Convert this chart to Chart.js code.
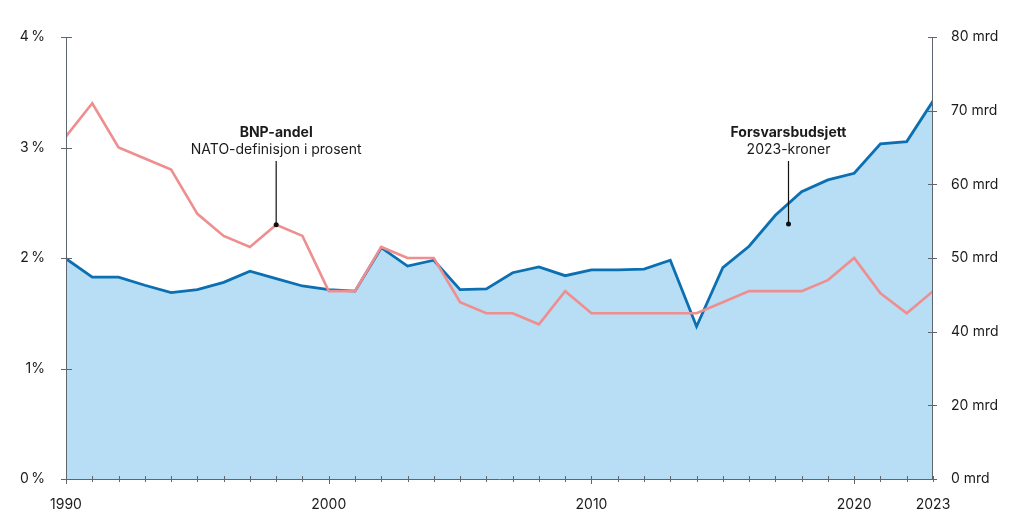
<!DOCTYPE html>
<html>
<head>
<meta charset="utf-8">
<script src="https://cdn.jsdelivr.net/npm/chart.js@4/dist/chart.umd.min.js"></script>
<style>
html,body{margin:0;padding:0;background:#fff;}
#wrap{width:1024px;height:532px;position:relative;}
</style>
</head>
<body>
<div id="wrap"><canvas id="c" width="1024" height="532"></canvas></div>
<script>
// ---- Data ----
const years = [1990,1991,1992,1993,1994,1995,1996,1997,1998,1999,2000,2001,2002,2003,2004,2005,2006,2007,2008,2009,2010,2011,2012,2013,2014,2015,2016,2017,2018,2019,2020,2021,2022,2023];
// BNP-andel, NATO-definisjon i prosent
const bnpShare = [3.1,3.4,3.0,2.9,2.8,2.4,2.2,2.1,2.3,2.2,1.7,1.7,2.1,2.0,2.0,1.6,1.5,1.5,1.4,1.7,1.5,1.5,1.5,1.5,1.5,1.6,1.7,1.7,1.7,1.8,2.0,1.68,1.5,1.7];
// Forsvarsbudsjett, milliarder 2023-kroner
const budget = [49.9,47.4,47.4,46.3,45.3,45.7,46.7,48.2,47.2,46.2,45.7,45.5,51.4,48.9,49.7,45.7,45.8,48.0,48.8,47.6,48.4,48.4,48.5,49.7,40.7,48.7,51.6,55.8,59.0,60.6,61.5,65.5,65.8,71.3];
const leftTicks = [0,1,2,3,4];
const rightTicks = [0,20,40,50,60,70,80];
const xLabelYears = [1990,2000,2010,2020,2023];

// ---- Broken (piecewise linear) scale: 0–40 uses lower third, 40–80 upper two thirds ----
class BrokenScale extends Chart.LinearScale {
  getPixelForValue(value) {
    const d = value <= 40 ? (value / 40) / 3 : 1/3 + ((value - 40) / 40) * 2/3;
    return this.getPixelForDecimal(d);
  }
  getValueForPixel(pixel) {
    const d = this.getDecimalForPixel(pixel);
    return d <= 1/3 ? d * 3 * 40 : 40 + (d - 1/3) * 1.5 * 40;
  }
}
BrokenScale.id = 'broken';
BrokenScale.defaults = Chart.LinearScale.defaults;
Chart.register(BrokenScale);

const FONT = 'Inter, "Noto Sans", sans-serif';
const AXIS = '#5f6670';
const TXT = '#1b1b1b';

const axesPlugin = {
  id: 'axesPlugin',
  afterDatasetsDraw(chart) {
    const ctx = chart.ctx;
    const {left, right, top, bottom} = chart.chartArea;
    const x = chart.scales.x, yl = chart.scales.yl, yr = chart.scales.yr;
    ctx.save();
    ctx.strokeStyle = AXIS;
    ctx.lineWidth = 1;
    ctx.beginPath();
    ctx.moveTo(left + 0.5, top); ctx.lineTo(left + 0.5, bottom);
    ctx.moveTo(right - 0.5, top); ctx.lineTo(right - 0.5, bottom);
    ctx.moveTo(left, bottom + 0.5); ctx.lineTo(right, bottom + 0.5);
    leftTicks.forEach(v => { const p = Math.round(yl.getPixelForValue(v)) + 0.5; ctx.moveTo(left - 5, p); ctx.lineTo(left + 6, p); });
    rightTicks.forEach(v => { const p = Math.round(yr.getPixelForValue(v)) + 0.5; ctx.moveTo(right - 5, p); ctx.lineTo(right + 4, p); });
    years.forEach(v => { const p = Math.round(x.getPixelForValue(v)) + 0.5; const big = xLabelYears.includes(v) && v !== 2023;
      ctx.moveTo(p, bottom - 3); ctx.lineTo(p, bottom + (big ? 5 : 3)); });
    ctx.stroke();

    // annotations
    const notes = [
      {title: 'BNP-andel', sub: 'NATO-definisjon i prosent', x: x.getPixelForValue(1998), y: yl.getPixelForValue(2.3)},
      {title: 'Forsvarsbudsjett', sub: '2023-kroner', x: x.getPixelForValue(2017.5), y: yr.getPixelForValue(54.6)}
    ];
    notes.forEach(n => {
      ctx.fillStyle = TXT;
      ctx.textAlign = 'center';
      ctx.textBaseline = 'middle';
      ctx.font = 'bold 14px ' + FONT;
      ctx.fillText(n.title, n.x, 133);
      ctx.font = '14px ' + FONT;
      ctx.fillText(n.sub, n.x, 150);
      ctx.strokeStyle = '#111';
      ctx.lineWidth = 1.2;
      ctx.beginPath();
      ctx.moveTo(n.x, 161); ctx.lineTo(n.x, n.y);
      ctx.stroke();
      ctx.beginPath();
      ctx.arc(n.x, n.y, 2.5, 0, Math.PI * 2);
      ctx.fillStyle = '#111';
      ctx.fill();
    });
    ctx.restore();
  }
};

new Chart(document.getElementById('c'), {
  type: 'line',
  data: {
    datasets: [
      {
        label: 'BNP-andel',
        data: years.map((y, i) => ({x: y, y: bnpShare[i]})),
        yAxisID: 'yl',
        borderColor: '#ee8e8f',
        borderWidth: 2.6,
        pointRadius: 0,
        fill: false,
        tension: 0,
        order: 0
      },
      {
        label: 'Forsvarsbudsjett',
        data: years.map((y, i) => ({x: y, y: budget[i]})),
        yAxisID: 'yr',
        borderColor: '#0b6fb2',
        backgroundColor: '#b8def6',
        borderWidth: 2.8,
        pointRadius: 0,
        fill: 'origin',
        tension: 0,
        order: 1
      }
    ]
  },
  plugins: [axesPlugin],
  options: {
    responsive: false,
    animation: false,
    events: [],
    layout: {padding: {top: 37, left: 0, right: 0, bottom: 0}},
    plugins: {legend: {display: false}, tooltip: {enabled: false}},
    scales: {
      x: {
        type: 'linear', min: 1990, max: 2023,
        afterBuildTicks: s => { s.ticks = xLabelYears.map(v => ({value: v})); },
        afterFit: s => { s.height = 53; },
        grid: {display: false}, border: {display: false},
        ticks: {color: TXT, font: {family: FONT, size: 14}, padding: 9, maxRotation: 0, autoSkip: false, callback: v => String(v)}
      },
      yl: {
        type: 'linear', position: 'left', min: 0, max: 4,
        afterBuildTicks: s => { s.ticks = leftTicks.map(v => ({value: v})); },
        afterFit: s => { s.width = 66; },
        grid: {display: false}, border: {display: false},
        ticks: {color: TXT, font: {family: FONT, size: 14}, padding: 13, callback: v => v + (v === 1 ? '%' : '\u2009%')}
      },
      yr: {
        type: 'broken', position: 'right', min: 0, max: 80,
        afterBuildTicks: s => { s.ticks = rightTicks.map(v => ({value: v})); },
        afterFit: s => { s.width = 91; },
        grid: {display: false}, border: {display: false},
        ticks: {color: TXT, font: {family: FONT, size: 14}, padding: 10, callback: v => v + ' mrd'}
      }
    }
  }
});
</script>
</body>
</html>
